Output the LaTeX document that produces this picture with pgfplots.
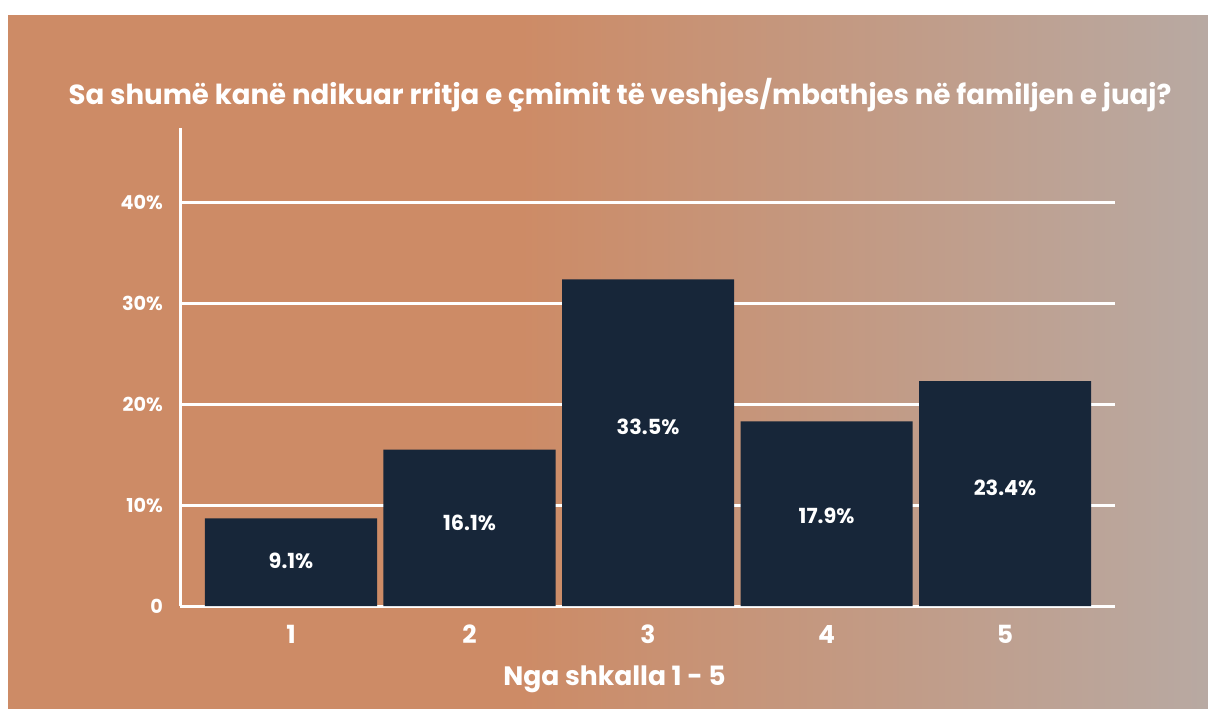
\documentclass[border=0pt]{standalone}
\usepackage{fontspec}
\setmainfont{Poppins}
\usepackage{pgfplots}
\pgfplotsset{compat=1.18}
\definecolor{bgA}{HTML}{CD8B66}
\definecolor{bgB}{HTML}{B8A9A2}
\definecolor{barc}{HTML}{172639}
\begin{document}
\begin{tikzpicture}
\useasboundingbox (0,0) rectangle (604pt,354pt);
\fill[white] (0,0) rectangle (604pt,354pt);
\begin{scope}
\clip (4pt,0) rectangle (604pt,346pt);
\fill[bgA] (0pt,-5pt) rectangle (610pt,350pt);
\shade[left color=bgA, right color=bgB] (260pt,-5pt) rectangle (604pt,350pt);
\end{scope}
\node[text=white, font=\fontsize{13.8}{16}\selectfont\bfseries] at (310pt,306.5pt) {Sa shumë kanë ndikuar rritja e çmimit të veshjes/mbathjes në familjen e juaj?};
\begin{axis}[
  at={(90pt,51pt)}, anchor=south west,
  scale only axis, width=467.5pt, height=239pt,
  xmin=0.378, xmax=5.616, ymin=0, ymax=47.4,
  axis lines=left,
  axis line style={-, white, line width=1.5pt},
  ytick={0,10,20,30,40},
  yticklabels={0,10\%,20\%,30\%,40\%},
  xtick={1,2,3,4,5},
  major tick length=0pt,
  ymajorgrids,
  grid style={white, line width=1.5pt},
  /pgf/number format/assume math mode=true,
  yticklabel style={text=white, font=\fontsize{9.6}{11}\selectfont\bfseries, anchor=east, xshift=-5pt},
  xticklabel style={text=white, font=\fontsize{12.5}{14}\selectfont\bfseries, yshift=-6pt},
  xlabel={Nga shkalla 1 - 5},
  xlabel style={text=white, font=\fontsize{13.3}{15}\selectfont\bfseries, yshift=-4pt, xshift=-16.5pt},
  clip=false,
]
\addplot[ybar, bar width=0.964, fill=barc, draw=none] coordinates {
  (1,8.7) (2,15.5) (3,32.4) (4,18.3) (5,22.3)
};
\addplot[draw=none, mark=none, nodes near coords, point meta=explicit symbolic,
  every node near coord/.style={anchor=center, text=white, font=\fontsize{10.4}{12}\selectfont\bfseries}]
  coordinates {
  (1,4.46) [9.1\%]
  (2,8.22) [16.1\%]
  (3,17.72) [33.5\%]
  (4,8.91) [17.9\%]
  (5,11.68) [23.4\%]
};
\end{axis}
\end{tikzpicture}
\end{document}
